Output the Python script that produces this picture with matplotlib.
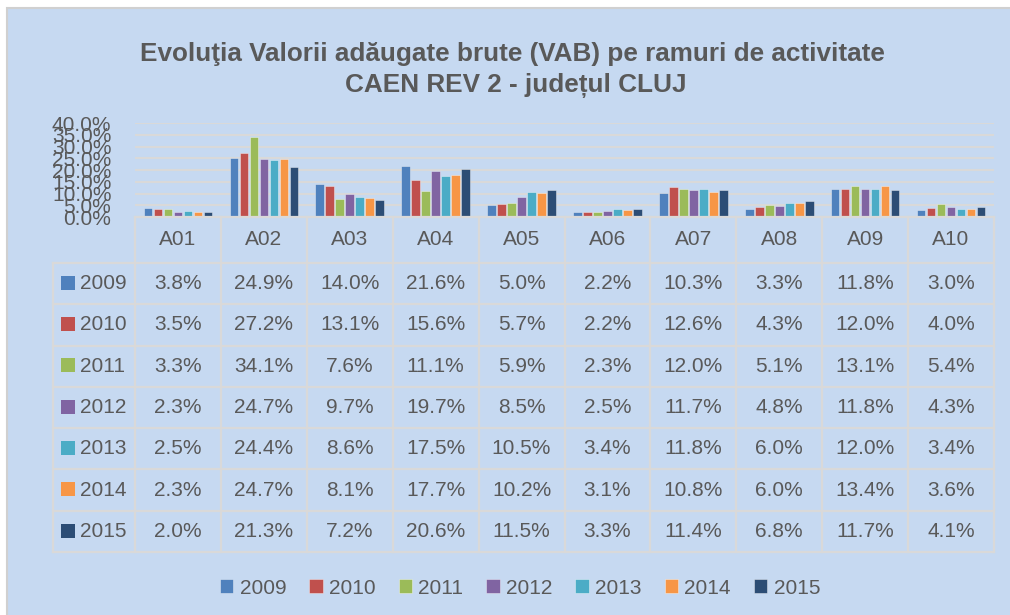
import numpy as np
import matplotlib
matplotlib.use("Agg")
import matplotlib.pyplot as plt
from matplotlib.patches import Rectangle

plt.rcParams['font.family'] = ['Liberation Sans', 'DejaVu Sans']

categories = ["A01", "A02", "A03", "A04", "A05", "A06", "A07", "A08", "A09", "A10"]
years = ["2009", "2010", "2011", "2012", "2013", "2014", "2015"]
v2009 = [3.8, 24.9, 14.0, 21.6, 5.0, 2.2, 10.3, 3.3, 11.8, 3.0]
v2010 = [3.5, 27.2, 13.1, 15.6, 5.7, 2.2, 12.6, 4.3, 12.0, 4.0]
v2011 = [3.3, 34.1, 7.6, 11.1, 5.9, 2.3, 12.0, 5.1, 13.1, 5.4]
v2012 = [2.3, 24.7, 9.7, 19.7, 8.5, 2.5, 11.7, 4.8, 11.8, 4.3]
v2013 = [2.5, 24.4, 8.6, 17.5, 10.5, 3.4, 11.8, 6.0, 12.0, 3.4]
v2014 = [2.3, 24.7, 8.1, 17.7, 10.2, 3.1, 10.8, 6.0, 13.4, 3.6]
v2015 = [2.0, 21.3, 7.2, 20.6, 11.5, 3.3, 11.4, 6.8, 11.7, 4.1]
series = [v2009, v2010, v2011, v2012, v2013, v2014, v2015]
colors = ["#4F81BD", "#C0504D", "#9BBB59", "#8064A2", "#4BACC6", "#F79646", "#2C4D75"]

grey_txt = "#595959"
grid_c = "#D9D9D9"
bg = "#C6D9F1"
fs = 15

W, H = 1010, 615
fig = plt.figure(figsize=(W / 100, H / 100), dpi=100, facecolor="white")

# blue chart area with grey border (behind everything)
fig.patches.append(Rectangle((7 / W, -0.01), 1.0, (H - 8) / H + 0.01, transform=fig.transFigure,
                             facecolor=bg, edgecolor="#D0D0D0", lw=1.5, zorder=-10))

# plot area (pixels)
px_l, px_r, px_top, px_axis = 135, 994, 123, 217
ax = fig.add_axes([px_l / W, (H - px_axis) / H, (px_r - px_l) / W, (px_axis - px_top) / H])
ax.set_facecolor("none")
x = np.arange(len(categories))
bw = 0.1164
handles = []
for i, (vals, c) in enumerate(zip(series, colors)):
    b = ax.bar(x + (i - 3) * bw, vals, width=bw * 0.86, color=c,
               edgecolor=(1, 1, 1, 0.45), linewidth=0.6, label=years[i], zorder=3)
    handles.append(b)
ax.set_xlim(-0.5, len(categories) - 0.5)
ax.set_ylim(0, 40)
ax.set_yticks(np.arange(0, 40.1, 5))
ax.set_yticklabels([f"{t:.1f}%" for t in np.arange(0, 40.1, 5)])
ax.tick_params(axis="y", length=0, pad=17, labelsize=fs, labelcolor=grey_txt)
ax.set_xticks([])
ax.grid(axis="y", color=grid_c, lw=1.5, zorder=0)
for s in ax.spines.values():
    s.set_visible(False)

# data table
unit = (px_r - px_l) / len(categories)
tbl_l, tbl_b = 53, 552
x0 = -0.5 - (px_l - tbl_l) / unit
hdr = 46 / 41.3
nrows = len(years)
axt = fig.add_axes([tbl_l / W, (H - tbl_b) / H, (px_r - tbl_l) / W, (tbl_b - px_axis) / H])
axt.set_facecolor("none")
axt.set_xlim(x0, len(categories) - 0.5)
axt.set_ylim(hdr + nrows, 0)
axt.axis("off")

lw_t = 1.6
axt.plot([-0.5, len(categories) - 0.5], [0, 0], color=grid_c, lw=lw_t, clip_on=False)
for r in range(nrows + 1):
    axt.plot([x0, len(categories) - 0.5], [hdr + r, hdr + r], color=grid_c, lw=lw_t, clip_on=False)
for k in range(len(categories) + 1):
    axt.plot([k - 0.5, k - 0.5], [0, hdr + nrows], color=grid_c, lw=lw_t, clip_on=False)
axt.plot([x0, x0], [hdr, hdr + nrows], color=grid_c, lw=lw_t, clip_on=False)

for j, cat in enumerate(categories):
    axt.text(j, hdr / 2, cat, ha="center", va="center", fontsize=fs, color=grey_txt)

sq_w = 14 / unit
sq_h = 14 / 41.3
for r, (yr, vals, c) in enumerate(zip(years, series, colors)):
    yc = hdr + r + 0.5
    sx = x0 + 8 / unit
    axt.add_patch(Rectangle((sx, yc - sq_h / 2 - 0.02), sq_w, sq_h, facecolor=c, edgecolor="none"))
    axt.text(sx + sq_w + 5 / unit, yc, yr, ha="left", va="center", fontsize=fs, color=grey_txt)
    for j, v in enumerate(vals):
        axt.text(j, yc, f"{v:.1f}%", ha="center", va="center", fontsize=fs, color=grey_txt)

# title
fig.text(512 / W, (H - 61) / H, "Evoluţia Valorii adăugate brute (VAB) pe ramuri de activitate",
         ha="center", va="baseline", fontsize=18.8, fontweight="bold", color=grey_txt)
fig.text(516 / W, (H - 92) / H, "CAEN REV 2 - județul CLUJ",
         ha="center", va="baseline", fontsize=18.8, fontweight="bold", color=grey_txt)

# legend
fig.legend(handles=handles, labels=years, loc="center", bbox_to_anchor=(520 / W, (H - 588) / H),
           ncol=7, frameon=False, fontsize=fs, labelcolor=grey_txt,
           handlelength=0.65, handleheight=0.65, handletextpad=0.3, columnspacing=1.1)

fig.savefig("out.png", dpi=100, facecolor=fig.get_facecolor())
